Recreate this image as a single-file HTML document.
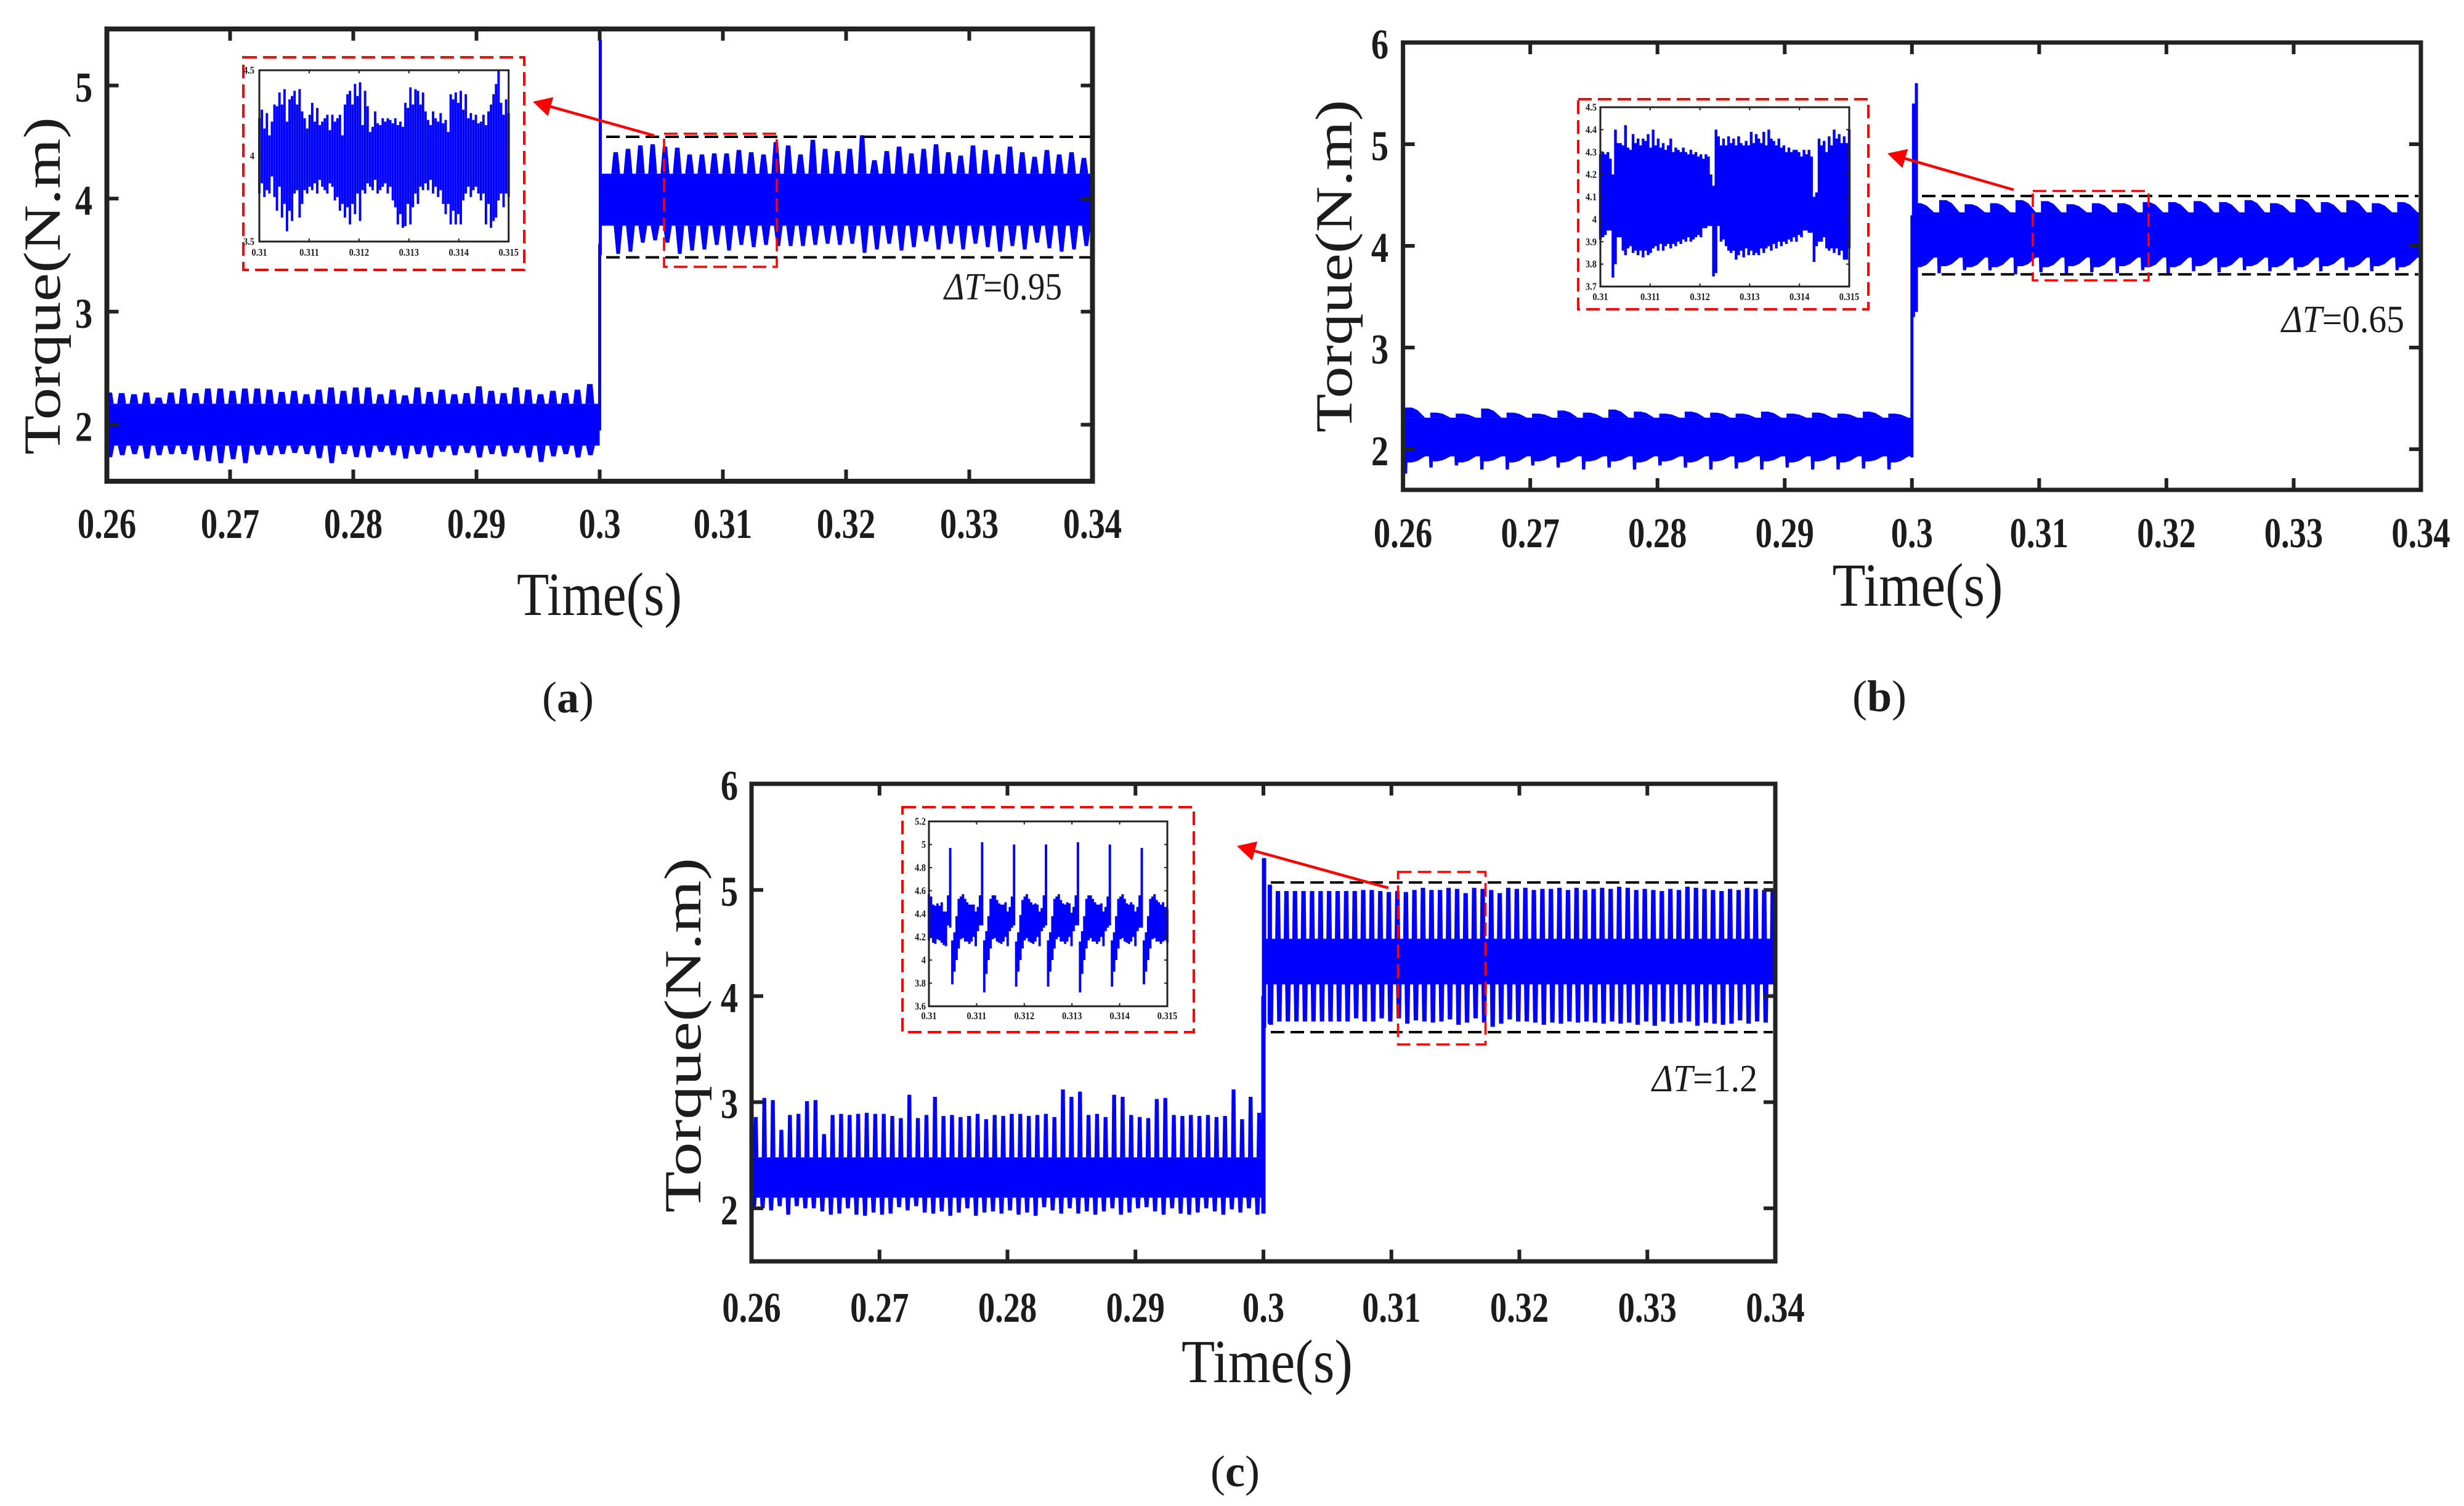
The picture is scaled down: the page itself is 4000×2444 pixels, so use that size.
<!DOCTYPE html>
<html lang="en">
<head>
<meta charset="utf-8">
<title>Torque response charts</title>
<style>
html,body{margin:0;padding:0;background:#fff;}
svg{display:block;}
text{font-family:"Liberation Serif",serif;fill:#1c1c1c;}
</style>
</head>
<body>
<svg id="fig" width="4000" height="2444" viewBox="0 0 4000 2444">
  <rect width="4000" height="2444" fill="#fff"/>
  <g id="layer-a"></g>
  <g id="layer-b"></g>
  <g id="layer-c"></g>

  <text transform="translate(97,464) rotate(-90)" text-anchor="middle" font-size="85" textLength="548" lengthAdjust="spacingAndGlyphs">Torque(N.m)</text>
  <text x="973" y="998" text-anchor="middle" font-size="100" textLength="268" lengthAdjust="spacingAndGlyphs">Time(s)</text>
  <text x="922" y="1156" text-anchor="middle" font-size="72">(<tspan font-weight="bold">a</tspan>)</text>
  <text x="1533" y="486" font-size="62" textLength="191" lengthAdjust="spacingAndGlyphs"><tspan font-style="italic">ΔT</tspan>=0.95</text>

  <text transform="translate(2194,432) rotate(-90)" text-anchor="middle" font-size="85" textLength="540" lengthAdjust="spacingAndGlyphs">Torque(N.m)</text>
  <text x="3113" y="983" text-anchor="middle" font-size="100" textLength="277" lengthAdjust="spacingAndGlyphs">Time(s)</text>
  <text x="3051" y="1154" text-anchor="middle" font-size="72">(<tspan font-weight="bold">b</tspan>)</text>
  <text x="3704" y="539" font-size="62" textLength="199" lengthAdjust="spacingAndGlyphs"><tspan font-style="italic">ΔT</tspan>=0.65</text>

  <text transform="translate(1137,1680) rotate(-90)" text-anchor="middle" font-size="85" textLength="576" lengthAdjust="spacingAndGlyphs">Torque(N.m)</text>
  <text x="2057" y="2243" text-anchor="middle" font-size="100" textLength="278" lengthAdjust="spacingAndGlyphs">Time(s)</text>
  <text x="2005" y="2412" text-anchor="middle" font-size="72">(<tspan font-weight="bold">c</tspan>)</text>
  <text x="2682" y="1771" font-size="62" textLength="171" lengthAdjust="spacingAndGlyphs"><tspan font-style="italic">ΔT</tspan>=1.2</text>
</svg>
<script>
/* ---------- shared tick labels ---------- */
const xTickLabels = ['0.26','0.27','0.28','0.29','0.3','0.31','0.32','0.33','0.34'];
const xTickValues = [0.26,0.27,0.28,0.29,0.30,0.31,0.32,0.33,0.34];
const aYTicks = [2,3,4,5];
const bYTicks = [2,3,4,5,6];
const cYTicks = [2,3,4,5,6];
const aDashLevels = [4.546,3.48];
const bDashLevels = [4.49,3.72];
const cDashLevels = [5.07,3.66];
const insetXTicks = ['0.31','0.311','0.312','0.313','0.314','0.315'];
const insetXValues = [0.31,0.311,0.312,0.313,0.314,0.315];
const insetAYTicks = ['3.5','4','4.5'];
const insetBYTicks = ['3.7','3.8','3.9','4','4.1','4.2','4.3','4.4','4.5'];
const insetCYTicks = ['3.6','3.8','4','4.2','4.4','4.6','4.8','5','5.2'];

/* ---------- panel a ---------- */
const aPreBand = [1.815,2.185];
const aPostBand = [3.76,4.22];
const aStep = [[0.3,1.95,3.6],[0.30005,3.5,5.4]];
const aPreHigh = [2.285,2.28,2.27,2.285,2.24,2.285,2.32,2.28,2.32,2.32,2.30,2.32,2.32,2.31,2.29,2.30,2.27,2.31,2.33,2.30,2.33,2.33,2.27,2.31,2.26,2.33,2.29,2.31,2.27,2.28,2.34,2.30,2.28,2.33,2.31,2.27,2.30,2.28,2.31,2.36];
const aPreLow = [1.713,1.73,1.74,1.70,1.73,1.74,1.74,1.686,1.677,1.66,1.695,1.66,1.736,1.73,1.74,1.75,1.74,1.704,1.66,1.74,1.713,1.71,1.76,1.73,1.70,1.74,1.71,1.76,1.73,1.75,1.71,1.74,1.72,1.75,1.71,1.67,1.72,1.74,1.71,1.73];
const aPostHigh = [4.41,4.44,4.47,4.48,4.46,4.45,4.39,4.39,4.40,4.40,4.43,4.41,4.39,4.50,4.47,4.39,4.52,4.44,4.42,4.44,4.56,4.34,4.42,4.46,4.40,4.44,4.48,4.41,4.38,4.47,4.43,4.39,4.46,4.41,4.37,4.43,4.39,4.41,4.36];
const aPostLow = [3.51,3.53,3.61,3.63,3.61,3.51,3.54,3.55,3.59,3.54,3.59,3.57,3.59,3.58,3.58,3.58,3.59,3.60,3.59,3.60,3.52,3.55,3.60,3.54,3.57,3.62,3.55,3.60,3.55,3.60,3.57,3.53,3.58,3.55,3.61,3.56,3.53,3.55,3.58];

/* inset a: samples of the zoomed torque, 0.31 to 0.315 s */
const insetAHigh = [4.22,4.27,4.16,4.25,4.12,4.20,4.30,4.29,4.37,4.30,4.39,4.20,4.33,4.35,4.38,4.30,4.39,4.26,4.22,4.16,4.24,4.31,4.20,4.28,4.18,4.20,4.22,4.24,4.15,4.24,4.20,4.22,4.24,4.12,4.30,4.36,4.38,4.30,4.42,4.35,4.43,4.18,4.38,4.29,4.14,4.17,4.26,4.19,4.18,4.22,4.20,4.22,4.21,4.19,4.22,4.18,4.20,4.17,4.31,4.28,4.40,4.30,4.39,4.38,4.30,4.37,4.26,4.21,4.18,4.26,4.22,4.20,4.25,4.19,4.21,4.14,4.36,4.33,4.37,4.31,4.38,4.27,4.36,4.22,4.25,4.21,4.24,4.19,4.20,4.24,4.18,4.26,4.30,4.36,4.42,4.50,4.31,4.24,4.33,4.25];
const insetALow = [3.78,3.84,3.76,3.80,3.78,3.88,3.76,3.68,3.82,3.64,3.72,3.56,3.68,3.62,3.78,3.80,3.64,3.72,3.80,3.78,3.82,3.80,3.84,3.78,3.86,3.82,3.80,3.78,3.84,3.82,3.74,3.76,3.68,3.72,3.64,3.70,3.60,3.72,3.66,3.78,3.62,3.80,3.78,3.84,3.82,3.80,3.86,3.78,3.80,3.82,3.84,3.78,3.82,3.74,3.70,3.60,3.66,3.58,3.59,3.72,3.60,3.70,3.78,3.72,3.82,3.80,3.84,3.80,3.86,3.78,3.82,3.76,3.80,3.72,3.66,3.72,3.60,3.68,3.60,3.66,3.60,3.74,3.78,3.82,3.76,3.80,3.82,3.78,3.74,3.78,3.60,3.72,3.58,3.62,3.64,3.74,3.78,3.70,3.78,3.76];

/* ---------- panel b ---------- */
const bPreBand = [1.93,2.31];
const bPostBand = [3.885,4.33];
const bStep = [[0.3,1.92,4.3],[0.30012,3.3,5.4],[0.30035,3.35,5.6]];
const bPreHigh = [2.41,2.36,2.35,2.40,2.36,2.35,2.38,2.36,2.39,2.37,2.35,2.37,2.36,2.35,2.37,2.35,2.36,2.35,2.37,2.35];
const bPreLow = [1.87,1.88,1.87,1.88,1.87,1.88,1.87,1.88,1.88,1.87,1.88,1.87,1.88,1.87,1.88,1.87,1.88,1.87,1.88,1.87];
const bPreSpike = [1.76,1.82,1.84,1.80,1.80,1.84,1.82,1.80,1.82,1.80,1.84,1.82,1.80,1.81,1.80,1.82,1.80,1.80,1.81,1.80];
const bPostHigh = [4.42,4.45,4.41,4.42,4.45,4.44,4.41,4.42,4.42,4.43,4.43,4.44,4.43,4.45,4.42,4.46,4.43,4.45,4.42,4.43];
const bPostLow = [3.79,3.80,3.79,3.79,3.80,3.79,3.80,3.79,3.80,3.79,3.79,3.80,3.79,3.80,3.79,3.79,3.80,3.79,3.80,3.79];
const bPostSpike = [3.74,3.73,3.76,3.76,3.72,3.74,3.73,3.74,3.73,3.76,3.72,3.75,3.74,3.76,3.75,3.76,3.75,3.76,3.75,3.76];

/* inset b samples */
const insetBHigh = [4.29,4.30,4.29,4.30,4.27,4.20,4.40,4.34,4.34,4.33,4.42,4.32,4.31,4.38,4.34,4.36,4.33,4.36,4.35,4.38,4.32,4.40,4.33,4.36,4.32,4.34,4.31,4.33,4.36,4.30,4.32,4.31,4.30,4.32,4.30,4.29,4.31,4.29,4.30,4.28,4.29,4.27,4.29,4.28,4.20,4.15,4.40,4.37,4.33,4.36,4.33,4.37,4.34,4.36,4.33,4.37,4.34,4.33,4.35,4.33,4.39,4.34,4.38,4.36,4.34,4.39,4.33,4.40,4.36,4.35,4.33,4.36,4.32,4.33,4.30,4.32,4.30,4.31,4.31,4.30,4.28,4.31,4.29,4.31,4.28,4.10,4.12,4.36,4.33,4.35,4.30,4.37,4.33,4.40,4.36,4.38,4.34,4.37,4.34,4.40];
const insetBLow = [3.91,3.92,3.93,3.95,3.95,3.74,3.80,3.92,3.92,3.86,3.84,3.87,3.88,3.85,3.86,3.84,3.86,3.83,3.86,3.84,3.85,3.87,3.88,3.86,3.89,3.86,3.88,3.89,3.87,3.89,3.88,3.90,3.89,3.91,3.90,3.92,3.90,3.91,3.92,3.93,3.92,3.96,3.96,3.97,3.97,3.745,3.76,3.97,3.90,3.91,3.88,3.86,3.85,3.86,3.82,3.84,3.86,3.83,3.87,3.84,3.86,3.84,3.85,3.84,3.87,3.85,3.87,3.88,3.86,3.89,3.87,3.90,3.88,3.90,3.89,3.91,3.90,3.92,3.90,3.93,3.92,3.95,3.95,3.94,3.94,3.81,3.88,3.90,3.90,3.92,3.87,3.86,3.87,3.85,3.87,3.84,3.86,3.82,3.82,3.87];

/* ---------- panel c ---------- */
const cPreBand = [2.10,2.48];
const cPostBand = [4.11,4.54];
const cStep = [[0.3,1.95,4.0],[0.30005,3.7,5.3],[0.3005,3.74,5.05]];
const cPreHigh = [2.86,3.04,3.02,2.74,2.88,2.89,3.01,3.02,2.70,2.88,2.89,2.88,2.89,2.90,2.89,2.89,2.87,2.85,3.07,2.85,2.88,3.05,2.87,2.88,2.86,2.87,2.89,2.84,2.88,2.87,2.89,2.89,2.87,2.88,2.89,2.86,3.12,3.05,3.10,2.88,2.89,2.86,3.07,3.05,2.88,2.86,2.85,3.03,3.04,2.88,2.87,2.88,2.87,2.88,2.86,2.87,3.12,2.84,3.05,2.90];
const cPreLow = [2.01,2.00,1.98,2.02,1.94,2.02,2.00,2.00,1.97,1.94,1.95,2.00,1.94,1.93,1.96,1.94,1.95,2.01,1.98,2.02,1.96,1.95,1.97,1.93,1.96,2.00,1.93,1.96,1.97,1.95,1.98,1.94,1.96,1.93,2.01,1.98,1.95,2.00,1.95,1.97,1.94,1.97,2.00,1.94,1.96,2.00,2.01,1.97,1.94,2.00,1.95,1.94,1.96,2.00,1.97,1.94,1.99,1.96,2.00,1.94];
const cPostHigh = [4.99,4.99,4.99,4.99,4.99,4.99,4.99,4.99,4.99,4.99,5.00,5.00,4.99,4.98,4.99,4.98,5.00,5.02,5.00,5.00,5.02,5.01,4.97,5.02,5.01,5.00,4.97,5.02,5.01,5.02,5.00,5.01,5.01,5.02,5.00,5.02,5.00,5.01,5.02,5.01,5.03,5.02,5.00,5.01,5.00,4.99,5.01,5.00,5.03,5.02,5.01,5.00,4.99,5.01,5.00,5.02,5.01,5.00,5.01];
const cPostLow = [3.73,3.76,3.76,3.76,3.76,3.76,3.76,3.76,3.76,3.76,3.79,3.76,3.76,3.79,3.76,3.79,3.74,3.77,3.76,3.75,3.76,3.78,3.73,3.75,3.79,3.75,3.71,3.74,3.78,3.76,3.76,3.75,3.73,3.75,3.74,3.76,3.75,3.76,3.75,3.74,3.76,3.74,3.75,3.73,3.76,3.72,3.76,3.74,3.75,3.76,3.72,3.75,3.74,3.73,3.74,3.77,3.74,3.76,3.75];

/* inset c samples */
const insetCHigh = [4.57,4.55,4.48,4.47,4.49,4.47,4.50,4.42,4.42,4.56,4.97,4.17,4.24,4.38,4.53,4.55,4.57,4.53,4.50,4.48,4.48,4.48,4.42,4.46,4.56,5.02,4.17,4.25,4.38,4.53,4.56,4.56,4.52,4.49,4.48,4.48,4.50,4.42,4.46,4.55,5.00,4.16,4.24,4.39,4.52,4.55,4.57,4.53,4.50,4.48,4.49,4.48,4.42,4.45,4.56,5.00,4.17,4.24,4.38,4.53,4.55,4.57,4.52,4.49,4.48,4.50,4.49,4.41,4.46,4.56,5.02,4.16,4.25,4.38,4.53,4.56,4.56,4.53,4.50,4.48,4.48,4.49,4.42,4.46,4.55,5.00,4.17,4.24,4.38,4.53,4.55,4.57,4.53,4.49,4.48,4.50,4.48,4.42,4.46,4.56,4.97,4.17,4.24,4.38,4.53,4.55,4.57,4.52,4.50,4.48,4.50,4.46,4.44];
const insetCLow = [4.17,4.19,4.15,4.14,4.18,4.17,4.15,4.13,4.12,4.30,4.28,3.79,3.90,4.00,4.10,4.18,4.19,4.16,4.16,4.14,4.16,4.20,4.12,4.25,4.30,4.30,3.72,3.88,4.00,4.10,4.18,4.19,4.16,4.15,4.14,4.16,4.20,4.12,4.25,4.28,4.30,3.77,3.90,4.00,4.10,4.17,4.19,4.16,4.15,4.14,4.16,4.20,4.12,4.25,4.28,4.30,3.77,3.90,4.00,4.10,4.18,4.20,4.16,4.16,4.14,4.16,4.20,4.12,4.25,4.30,4.30,3.72,3.88,4.00,4.10,4.17,4.19,4.16,4.16,4.14,4.16,4.20,4.12,4.25,4.28,4.30,3.77,3.90,4.00,4.10,4.18,4.19,4.16,4.15,4.14,4.16,4.20,4.12,4.25,4.28,4.28,3.79,3.90,4.00,4.10,4.18,4.19,4.16,4.16,4.14,4.16,4.17,4.15];

/* ---------- helpers ---------- */
const SVGNS = document.getElementById('fig').namespaceURI;
const BLUE = '#0000ff', INK = '#222222', RED = '#ff0000';
function make(tag, attrs, parent){
  const n = document.createElementNS(SVGNS, tag);
  for (const k in attrs) n.setAttribute(k, attrs[k]);
  parent.appendChild(n);
  return n;
}
function scale(d0, d1, r0, r1){ return v => r0 + (v - d0) / (d1 - d0) * (r1 - r0); }

/* one polygon per envelope peak, from base level out to the peak value */
function peaksPath(x, y, l){
  const period = Math.abs(x(l.t0 + l.dt) - x(l.t0));
  const w = period * l.frac;
  let d = '';
  l.values.forEach((v, i) => {
    const cx = x(l.t0 + l.dt * (i + l.phase));
    if (l.saw){
      const mid = l.base + (v - l.base) * 0.75;
      d += 'M' + cx + ' ' + y(l.base) + 'L' + cx + ' ' + y(v) + 'L' + (cx + period * 0.28) + ' ' + y(v) + 'L' + (cx + period * 0.5) + ' ' + y(mid) + 'L' + (cx + period * 0.8) + ' ' + y(l.base) + 'Z';
    } else {
      const p = l.plateau;
      d += 'M' + (cx - w) + ' ' + y(l.base) + 'L' + (cx - w * p) + ' ' + y(v) + 'L' + (cx + w * p) + ' ' + y(v) + 'L' + (cx + w) + ' ' + y(l.base) + 'Z';
    }
  });
  return d;
}

function drawAxes(g, box, x, y, xVals, xLabs, yVals, yLabs, o){
  for (let i = 0; i < xVals.length; i++){
    const px = x(xVals[i]);
    const t1 = make('line', {x1:px, x2:px, y1:box.y1, y2:box.y1 - o.len, stroke:INK, 'stroke-width':o.tick}, g);
    
    
    const t2 = make('line', {x1:px, x2:px, y1:box.y0, y2:box.y0 + o.len, stroke:INK, 'stroke-width':o.tick}, g);
    
    
    const lab = make('text', {transform:'translate(' + px + ',' + o.xBase + ') scale(' + o.xSx + ',1)', 'text-anchor':'middle', 'font-size':o.font, 'font-weight':'bold'}, g);
    lab.textContent = xLabs[i];
    
    
  }
  for (let i = 0; i < yVals.length; i++){
    const py = y(yVals[i]);
    const t1 = make('line', {x1:box.x0, x2:box.x0 + o.len, y1:py, y2:py, stroke:INK, 'stroke-width':o.tick}, g);
    
    
    const t2 = make('line', {x1:box.x1, x2:box.x1 - o.len, y1:py, y2:py, stroke:INK, 'stroke-width':o.tick}, g);
    
    
    const lab = make('text', {transform:'translate(' + o.yX + ',' + (py + o.yOff) + ') scale(' + o.ySx + ',1)', 'text-anchor':o.yAnchor, 'font-size':o.font, 'font-weight':'bold'}, g);
    lab.textContent = yLabs[i];
    
    
  }
  const f = make('rect', {x:box.x0, y:box.y0, width:box.x1 - box.x0, height:box.y1 - box.y0, fill:'none', stroke:INK, 'stroke-width':o.frame}, g);
  
  
}

function drawInset(g, box, yMin, yMax, yLabs, high, low, barW, labelBase, labelX, name){
  const x = scale(0.31, 0.315, box.x0, box.x1);
  const y = scale(yMin, yMax, box.y1, box.y0);
  const ins = make('g', {}, g);
  
  
  const dt = 0.005 / (high.length - 1);
  let d = '';
  high.forEach((h, i) => { const px = x(0.31 + dt * i); d += 'M' + px + ' ' + y(h) + 'V' + y(low[i]); });
  const s = make('path', {d:d, stroke:BLUE, 'stroke-width':barW, fill:'none'}, ins);
  
  
  drawAxes(ins, box, x, y, insetXValues, insetXTicks, yLabs.map(Number), yLabs, {
    tick:2, len:5, frame:3, font:17, xBase:labelBase, xSx:0.85, yX:labelX, yOff:5.5, ySx:0.85, yAnchor:'end', frameName:'inset-frame'
  });
}

function drawPanel(p){
  const g = document.getElementById(p.layer);
  const x = scale(0.26, 0.34, p.box.x0, p.box.x1);
  const y = scale(p.yMin, p.yMax, p.box.y1, p.box.y0);

  /* core bands */
  [[0.26, 0.30, p.preBand, 'pre-step-core'], [0.30, 0.34, p.postBand, 'post-step-core']].forEach(s => {
    const r = make('rect', {x:x(s[0]), y:y(s[2][1]), width:x(s[1]) - x(s[0]), height:y(s[2][0]) - y(s[2][1]), fill:BLUE}, g);
    
    
  });
  /* envelope peaks */
  p.layers.forEach(l => {
    const m = make('path', {d:peaksPath(x, y, l), fill:BLUE}, g);
    
    
  });
  /* step transition */
  p.step.forEach(s => {
    const b = make('line', {x1:x(s[0]), x2:x(s[0]), y1:y(s[1]), y2:y(s[2]), stroke:BLUE, 'stroke-width':p.stepW}, g);
    
    
  });
  /* dashed limit lines */
  p.dash.forEach(v => {
    const l = make('line', {x1:p.dashStart, x2:p.box.x1 - 4, y1:y(v), y2:y(v), stroke:'#000', 'stroke-width':4, 'stroke-dasharray':'22 10'}, g);
    
    
  });
  /* red zoom box */
  const zb = make('rect', {x:p.zoom[0], y:p.zoom[1], width:p.zoom[2] - p.zoom[0], height:p.zoom[3] - p.zoom[1], fill:'none', stroke:RED, 'stroke-width':3.5, 'stroke-dasharray':'22 10'}, g);
  
  
  /* inset outline */
  const ob = make('rect', {x:p.outer[0], y:p.outer[1], width:p.outer[2] - p.outer[0], height:p.outer[3] - p.outer[1], fill:'#fff', stroke:RED, 'stroke-width':4, 'stroke-dasharray':'22 10'}, g);
  
  
  /* arrow */
  const a = p.arrow, ang = Math.atan2(a[3] - a[1], a[2] - a[0]);
  const bx = a[0] + Math.cos(ang) * 30, by = a[1] + Math.sin(ang) * 30;
  const nx = -Math.sin(ang) * 16, ny = Math.cos(ang) * 16;
  const al = make('line', {x1:bx, y1:by, x2:a[2], y2:a[3], stroke:RED, 'stroke-width':4.5}, g);
  
  
  const ah = make('polygon', {points:a[0] + ',' + a[1] + ' ' + (bx + nx) + ',' + (by + ny) + ' ' + (bx - nx) + ',' + (by - ny), fill:RED}, g);
  
  
  /* axes */
  drawAxes(g, p.box, x, y, xTickValues, xTickLabels, p.yTicks, p.yTicks.map(String), {
    tick:6, len:19, frame:p.frame, font:69, xBase:p.xBase, xSx:0.79, yX:p.yX, yOff:26, ySx:0.82, yAnchor:'middle', frameName:'plot-frame'
  });
  /* inset */
  p.inset(g);
}

drawPanel({
  layer:'layer-a', box:{x0:173.5, x1:1773.5, y0:47, y1:781}, yMin:1.5, yMax:5.5, yTicks:aYTicks, frame:8, xBase:873, yX:136,
  preBand:aPreBand, postBand:aPostBand, step:aStep, stepW:5, dash:aDashLevels, dashStart:984,
  zoom:[1078,217,1261,433], outer:[395,93,851,438], arrow:[865,165,1062,220],
  layers:[
    {name:'pre-step-upper-ripple', t0:0.26, dt:0.001, phase:0.2, values:aPreHigh, base:aPreBand[1], frac:0.36, plateau:0.62},
    {name:'pre-step-lower-ripple', t0:0.26, dt:0.001, phase:0.25, values:aPreLow, base:aPreBand[0], frac:0.36, plateau:0.5},
    {name:'post-step-upper-ripple', t0:0.30, dt:0.001, phase:1.3, values:aPostHigh, base:aPostBand[1], frac:0.36, plateau:0.5},
    {name:'post-step-lower-ripple', t0:0.30, dt:0.001, phase:1.5, values:aPostLow, base:aPostBand[0], frac:0.36, plateau:0.4}
  ],
  inset:g => drawInset(g, {x0:421, x1:825.7, y0:114, y1:392}, 3.5, 4.5, insetAYTicks, insetAHigh, insetALow, 3.9, 415, 413, 'inset-a')
});
drawPanel({
  layer:'layer-b', box:{x0:2277.6, x1:3930, y0:69, y1:795}, yMin:1.6, yMax:6, yTicks:bYTicks, frame:7, xBase:888, yX:2240,
  preBand:bPreBand, postBand:bPostBand, step:bStep, stepW:5, dash:bDashLevels, dashStart:3120,
  zoom:[3300,310,3488,455], outer:[2562,161,3033,502], arrow:[3064,249,3269,308],
  layers:[
    {name:'pre-step-upper-ripple', t0:0.26, dt:0.002, phase:0.07, values:bPreHigh, base:bPreBand[1], saw:true},
    {name:'pre-step-lower-ripple', t0:0.26, dt:0.002, phase:0.07, values:bPreLow, base:bPreBand[0], saw:true},
    {name:'pre-step-lower-spikes', t0:0.26, dt:0.002, phase:0.1, values:bPreSpike, base:bPreBand[0], frac:0.08, plateau:0.8},
    {name:'post-step-upper-ripple', t0:0.30, dt:0.002, phase:0.07, values:bPostHigh, base:bPostBand[1], saw:true},
    {name:'post-step-lower-ripple', t0:0.30, dt:0.002, phase:0.07, values:bPostLow, base:bPostBand[0], saw:true},
    {name:'post-step-lower-spikes', t0:0.30, dt:0.002, phase:0.07, values:bPostSpike, base:bPostBand[0], frac:0.08, plateau:0.8}
  ],
  inset:g => drawInset(g, {x0:2598, x1:3002, y0:174, y1:465}, 3.7, 4.5, insetBYTicks, insetBHigh, insetBLow, 4.4, 487, 2592, 'inset-b')
});
drawPanel({
  layer:'layer-c', box:{x0:1220, x1:2882, y0:1272, y1:2047}, yMin:1.5, yMax:6, yTicks:cYTicks, frame:7, xBase:2145, yX:1184,
  preBand:cPreBand, postBand:cPostBand, step:cStep, stepW:7, dash:cDashLevels, dashStart:2063,
  zoom:[2269.5,1415,2411.5,1695], outer:[1465,1310,1938,1675], arrow:[2008,1373,2254,1441],
  layers:[
    {name:'pre-step-upper-spikes', t0:0.26, dt:0.04/60, phase:0.5, values:cPreHigh, base:cPreBand[1], frac:0.3, plateau:0.75},
    {name:'pre-step-lower-spikes', t0:0.26, dt:0.04/60, phase:0.3, values:cPreLow, base:cPreBand[0], frac:0.3, plateau:0.75},
    {name:'post-step-upper-spikes', t0:0.30, dt:0.04/60, phase:1.7, values:cPostHigh, base:cPostBand[1], frac:0.32, plateau:0.8},
    {name:'post-step-lower-spikes', t0:0.30, dt:0.04/60, phase:0.87, values:cPostLow, base:cPostBand[0], frac:0.32, plateau:0.8}
  ],
  inset:g => drawInset(g, {x0:1508, x1:1895, y0:1333, y1:1633}, 3.6, 5.2, insetCYTicks, insetCHigh, insetCLow, 3.9, 1654, 1503, 'inset-c')
});
</script>
</body>
</html>
